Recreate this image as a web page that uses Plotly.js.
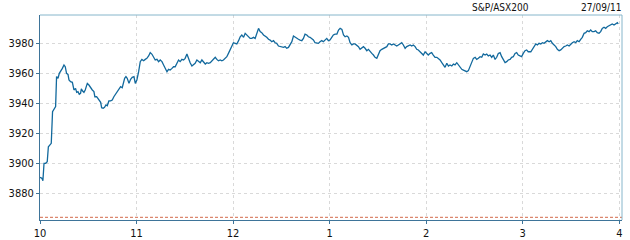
<!DOCTYPE html>
<html>
<head>
<meta charset="utf-8">
<script src="https://cdn.plot.ly/plotly-3.0.1.min.js"></script>
<style>
  html, body { margin: 0; padding: 0; background: #ffffff; }
  #chart { width: 630px; height: 240px; }
</style>
</head>
<body>
<div id="chart"></div>
<script>
// ---- Data ----
const tradeDate = "2011-09-27";
const chartTitle = "S&P/ASX200";
const dateLabel = "27/09/11";

// minutes after 10:00 for each sample
const minutesAfterOpen = [
  0.0, 1.2, 1.8, 2.5, 3.5, 4.5, 5.2, 6.2, 7.0, 7.8, 9.1, 9.7, 10.3, 11.2, 12.0, 12.8, 13.9, 14.9, 15.7, 16.5,
  17.4, 18.0, 19.0, 20.1, 21.1, 22.1, 22.8, 23.6, 24.4, 25.2, 25.7, 26.5, 27.3, 28.1, 29.4, 30.4, 31.4, 32.5, 33.5, 34.1,
  35.2, 36.0, 36.8, 37.7, 38.3, 39.3, 40.1, 41.0, 41.8, 42.8, 43.9, 44.9, 45.9, 47.0, 48.0, 49.0, 50.1, 51.1, 51.7, 52.6,
  53.4, 54.2, 55.3, 56.3, 57.3, 58.4,
  59.2, 60.2, 61.3, 62.3, 63.3, 64.4, 65.4, 66.4, 67.5, 68.5, 69.6, 70.6, 71.6, 72.7, 73.7, 74.7, 75.8, 76.8, 77.8, 78.9,
  79.9, 80.9, 82.0, 83.0, 84.0, 85.1, 86.1, 87.1, 88.2, 89.2, 90.2, 91.3, 92.3, 93.3, 94.4, 95.4, 96.4, 97.5, 98.5, 99.6,
  100.6, 101.6, 102.7, 103.7, 104.7, 105.8, 106.8, 107.8, 108.9, 109.9, 110.9, 112.0, 113.0, 114.0, 115.1, 116.1, 117.1, 118.2, 119.2, 120.2,
  121.3, 122.3, 123.4, 124.4, 125.4, 126.5, 127.5, 128.5, 129.6, 130.6, 131.6, 132.7, 133.7, 134.7, 135.8, 136.8, 137.8, 138.9, 139.9, 140.9,
  142.0, 143.0, 144.0, 145.1, 146.1, 147.1, 148.2, 149.2, 150.2, 151.3, 152.3, 153.3, 154.4, 155.4, 156.5, 157.5, 158.5, 159.6, 160.6, 161.6,
  162.7, 163.7, 164.7, 165.8, 166.8, 167.8, 168.9, 169.9, 170.9, 172.0, 173.0, 174.0, 175.1, 176.1, 177.1, 178.2, 179.2, 180.2, 181.3, 182.3,
  183.4, 184.5, 185.5, 186.5, 187.6, 188.6, 189.6, 190.7, 191.7, 192.7, 193.8, 194.8, 195.8, 196.9, 197.9, 198.9, 200.0, 201.0, 202.0, 203.1,
  204.1, 205.1, 206.2, 207.2, 208.2, 209.3, 210.3, 211.3, 212.4, 213.4, 214.4, 215.5, 216.5, 217.5, 218.6, 219.6, 220.7, 221.7, 222.7, 223.8,
  224.8, 225.8, 226.9, 227.9, 228.9, 230.0, 231.0, 232.0, 233.1, 234.1, 235.1, 236.2, 237.2, 238.2, 239.3, 240.3, 241.3, 242.4, 243.4, 244.4,
  245.5, 246.6, 247.6, 248.6, 249.7, 250.7, 251.7, 252.8, 253.8, 254.8, 255.9, 256.9, 257.9, 259.0, 260.0, 261.1, 262.1, 263.1, 264.2, 265.2,
  266.2, 267.3, 268.3, 269.3, 270.4, 271.4, 272.4, 273.5, 274.5, 275.5, 276.6, 277.6, 278.6, 279.7, 280.7, 281.7, 282.8, 283.8, 284.8, 285.9,
  286.9, 287.9, 289.0, 290.0, 291.0, 292.1, 293.1, 294.1, 295.2, 296.2, 297.2, 298.3, 299.3, 300.3, 301.4, 302.4, 303.4,
  305.0, 306.0, 307.0, 308.1, 309.1, 310.1, 311.2, 312.2, 313.2, 314.3, 315.3, 316.4, 317.4, 318.4, 319.5, 320.5, 321.5, 322.6, 323.6, 324.6,
  325.7, 326.7, 327.7, 328.8, 329.8, 330.8, 331.9, 332.9, 333.9, 335.0, 336.0, 337.0, 338.1, 339.1, 340.1, 341.2, 342.2, 343.2, 344.3, 345.3,
  346.3, 347.4, 348.4, 349.4, 350.5, 351.5, 352.5, 353.6, 354.6, 355.6, 356.7, 357.7, 358.8, 359.3
];

const indexValues = [
  3890.7, 3890.0, 3888.4, 3900.0, 3900.0, 3901.0, 3911.0, 3912.7, 3913.3, 3934.4, 3936.7, 3937.8, 3957.8, 3956.7, 3960.0, 3961.1, 3963.3, 3965.6, 3964.4, 3960.0,
  3959.3, 3955.6, 3954.4, 3954.0, 3948.9, 3950.0, 3947.3, 3947.8, 3946.0, 3946.7, 3949.6, 3948.2, 3947.3, 3948.9, 3953.3, 3952.2, 3950.4, 3948.9, 3947.8, 3944.4,
  3944.4, 3943.3, 3942.2, 3940.7, 3937.1, 3936.7, 3937.3, 3938.9, 3938.4, 3941.6, 3941.6, 3942.2, 3944.4, 3946.0, 3947.3, 3948.9, 3951.1, 3950.4, 3953.3, 3956.7,
  3957.8, 3956.7, 3953.3, 3956.0, 3957.3, 3957.8,
  3953.3, 3955.6, 3961.1, 3967.8, 3969.3, 3968.4, 3969.3, 3970.0, 3971.6, 3973.8, 3972.7, 3970.7, 3968.9, 3969.3, 3967.8, 3968.9, 3967.8, 3965.6, 3963.3, 3961.1,
  3962.7, 3962.2, 3963.3, 3964.4, 3964.4, 3967.1, 3968.9, 3967.8, 3969.3, 3968.9, 3970.0, 3972.9, 3969.3, 3967.1, 3964.9, 3965.6, 3966.7, 3968.9, 3967.8, 3967.1,
  3968.9, 3967.8, 3966.2, 3967.1, 3966.7, 3967.1, 3968.4, 3969.3, 3970.7, 3969.3, 3968.4, 3968.9, 3968.4, 3968.9, 3970.0, 3971.1, 3973.3, 3976.0, 3977.8, 3980.4,
  3980.0, 3979.6, 3981.8, 3984.4, 3985.6, 3984.0, 3986.7, 3985.6, 3984.4, 3983.3, 3983.3, 3984.0, 3983.3, 3986.2, 3990.0, 3987.8, 3987.1, 3985.6, 3984.9, 3984.0,
  3982.7, 3982.2, 3981.1, 3981.8, 3980.4, 3980.0, 3978.2, 3977.8, 3977.8, 3977.3, 3977.8, 3976.7, 3977.3, 3978.9, 3981.1, 3984.9, 3984.0, 3983.3, 3982.7, 3982.2,
  3981.8, 3983.3, 3986.2, 3985.6, 3984.4, 3984.0, 3983.3, 3982.2, 3980.4, 3980.4, 3980.0, 3981.1, 3981.8, 3981.1, 3982.2, 3983.3, 3981.8, 3982.2, 3984.0, 3985.6,
  3986.2, 3986.2, 3988.9, 3990.0, 3989.3, 3985.6, 3984.4, 3984.9, 3984.0, 3980.4, 3978.9, 3979.6, 3979.6, 3978.9, 3977.8, 3976.0, 3976.7, 3977.8, 3976.7, 3975.1,
  3976.0, 3974.4, 3973.3, 3972.2, 3970.7, 3970.0, 3973.3, 3975.1, 3976.0, 3976.7, 3977.3, 3977.8, 3979.6, 3979.6, 3978.9, 3979.6, 3978.9, 3978.2, 3978.9, 3980.0,
  3980.4, 3978.9, 3976.7, 3977.8, 3978.2, 3978.9, 3978.2, 3978.9, 3977.8, 3976.0, 3975.6, 3974.4, 3973.3, 3972.2, 3974.4, 3973.3, 3972.2, 3973.3, 3973.8, 3972.2,
  3970.7, 3970.7, 3970.0, 3968.9, 3967.1, 3965.6, 3964.0, 3966.7, 3964.9, 3965.6, 3964.9, 3966.2, 3965.6, 3967.1, 3965.6, 3964.4, 3962.7, 3962.2, 3961.8, 3961.1,
  3961.8, 3964.9, 3968.4, 3970.0, 3970.7, 3969.3, 3970.0, 3971.1, 3970.7, 3972.9, 3972.2, 3972.9, 3971.6, 3972.2, 3970.7, 3972.2, 3969.3, 3970.7, 3973.3, 3973.8,
  3971.1, 3969.3, 3967.1, 3967.8, 3968.9, 3969.3, 3970.7, 3971.1, 3973.3, 3973.8, 3972.2, 3971.6, 3971.1, 3973.3, 3975.1, 3975.6, 3974.4,
  3974.4, 3976.0, 3977.8, 3979.6, 3978.9, 3980.0, 3979.6, 3980.4, 3980.0, 3981.1, 3981.8, 3981.1, 3981.8, 3980.0, 3978.9, 3977.8, 3976.0, 3975.1, 3975.6, 3976.7,
  3977.8, 3978.2, 3978.9, 3978.2, 3979.6, 3980.4, 3981.1, 3980.4, 3981.8, 3981.1, 3982.7, 3984.0, 3986.7, 3987.1, 3988.4, 3987.8, 3988.9, 3987.8, 3987.8, 3988.4,
  3987.1, 3986.7, 3987.8, 3990.0, 3990.7, 3990.0, 3991.1, 3991.6, 3992.2, 3992.9, 3992.2, 3993.3, 3993.8, 3992.9
];

// reference level drawn as the dashed line near the bottom
const referenceLevel = 3864;

// axis ticks
const hourTickTimes = ["10:00", "11:00", "12:00", "13:00", "14:00", "15:00", "16:00"];
const hourTickLabels = ["10", "11", "12", "1", "2", "3", "4"];
const yRange = [3862.2, 3998.9];
const xRangeTimes = ["10:00:00", "16:01:40"];

// ---- Build ----
function pad(n) { return (n < 10 ? "0" : "") + n; }
function minutesToStamp(m) {
  const s = Math.round(m * 60);
  const h = 10 + Math.floor(s / 3600);
  const mm = Math.floor((s % 3600) / 60);
  const ss = s % 60;
  return tradeDate + " " + pad(h) + ":" + pad(mm) + ":" + pad(ss);
}
const xStamps = minutesAfterOpen.map(minutesToStamp);
const tickStamps = hourTickTimes.map(t => tradeDate + " " + t);

const FONT = "'DejaVu Sans Condensed', 'DejaVu Sans', sans-serif";
const darkAxis = "#3e7499";
const lightBorder = "#86b6cb";

const trace = {
  type: "scatter",
  mode: "lines",
  x: xStamps,
  y: indexValues,
  line: { color: "#12699d", width: 1.3 },
  hoverinfo: "skip",
  showlegend: false
};

const layout = {
  width: 630,
  height: 240,
  margin: { l: 40, r: 8, t: 15, b: 20, pad: 0 },
  paper_bgcolor: "#ffffff",
  plot_bgcolor: "#ffffff",
  font: { family: FONT, size: 11, color: "#111111" },
  showlegend: false,
  xaxis: {
    type: "date",
    range: xRangeTimes.map(t => tradeDate + " " + t),
    tickmode: "array",
    tickvals: tickStamps,
    ticktext: hourTickLabels,
    showgrid: true,
    gridcolor: "#d9d9d9",
    griddash: "3px,3px",
    gridwidth: 1,
    zeroline: false,
    showline: true,
    linecolor: darkAxis,
    linewidth: 1,
    ticks: "outside",
    ticklen: 3,
    tickcolor: darkAxis,
    tickfont: { family: FONT, size: 11, color: "#111111" }
  },
  yaxis: {
    range: yRange,
    tick0: 3880,
    dtick: 20,
    showgrid: true,
    gridcolor: "#d9d9d9",
    griddash: "3px,3px",
    gridwidth: 1,
    zeroline: false,
    showline: true,
    linecolor: darkAxis,
    linewidth: 1,
    ticks: "outside",
    ticklen: 3,
    tickcolor: darkAxis,
    tickfont: { family: FONT, size: 11, color: "#111111" }
  },
  shapes: [
    { type: "line", xref: "paper", yref: "y", x0: 0, x1: 1, y0: referenceLevel, y1: referenceLevel,
      line: { color: "#d2694a", width: 1, dash: "3px,2px" } },
    { type: "line", xref: "paper", yref: "paper", x0: 0, x1: 1, y0: 1, y1: 1,
      line: { color: lightBorder, width: 1 } },
    { type: "line", xref: "paper", yref: "paper", x0: 1, x1: 1, y0: 0, y1: 1,
      line: { color: lightBorder, width: 1 } }
  ],
  annotations: [
    { text: chartTitle, xref: "paper", yref: "paper", x: 0.741, y: 1.0, xanchor: "left", yanchor: "bottom",
      showarrow: false, font: { family: FONT, size: 10, color: "#111111" }, borderpad: 0, yshift: 1 },
    { text: dateLabel, xref: "paper", yref: "paper", x: 1.0, y: 1.0, xanchor: "right", yanchor: "bottom",
      showarrow: false, font: { family: FONT, size: 10, color: "#111111" }, borderpad: 0, yshift: 1 }
  ]
};

Plotly.newPlot("chart", [trace], layout, { staticPlot: true, displayModeBar: false });
</script>
</body>
</html>
